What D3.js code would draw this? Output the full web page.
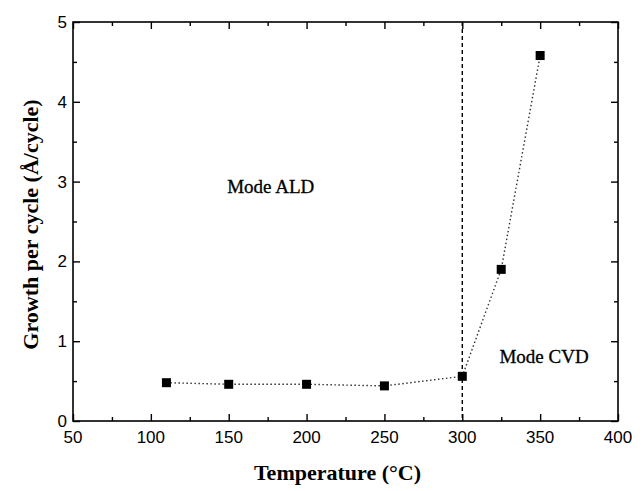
<!DOCTYPE html>
<html><head><meta charset="utf-8">
<script src="https://cdn.jsdelivr.net/npm/d3@7"></script>
<style>body{margin:0;background:#fff}</style>
</head><body>
<svg id="c" width="644" height="491"></svg>
<script>
const temps = [110, 150, 200, 250, 300, 325, 350];
const growth = [0.48, 0.46, 0.46, 0.44, 0.56, 1.90, 4.58];
const xTicks = [50, 100, 150, 200, 250, 300, 350, 400];
const yTicks = [0, 1, 2, 3, 4, 5];
const xMinor = [75, 125, 175, 225, 275, 325, 375];
const yMinor = [0.5, 1.5, 2.5, 3.5, 4.5];
const transitionT = 300;
const labels = [{t: "Mode ALD", x: 177, y: 2.86}, {t: "Mode CVD", x: 352.5, y: 0.73}];

const svg = d3.select("#c");
const L = 73, R = 618, T = 22, B = 421;
const x = d3.scaleLinear().domain([50, 400]).range([L, R]);
const y = d3.scaleLinear().domain([0, 5]).range([B, T]);

const tickStyle = g => { g.select(".domain").remove(); g.selectAll("line").attr("stroke", "#000").attr("stroke-width", 1.4); };

svg.append("g").attr("transform", `translate(0,${B})`)
  .call(d3.axisTop(x).tickValues(xTicks).tickSize(7).tickFormat(""))
  .call(tickStyle);
svg.append("g").attr("transform", `translate(0,${B})`)
  .call(d3.axisTop(x).tickValues(xMinor).tickSize(4).tickFormat(""))
  .call(tickStyle);
svg.append("g").attr("transform", `translate(0,${T})`)
  .call(d3.axisBottom(x).tickValues(xTicks).tickSize(7).tickFormat(""))
  .call(tickStyle);
svg.append("g").attr("transform", `translate(0,${T})`)
  .call(d3.axisBottom(x).tickValues(xMinor).tickSize(4).tickFormat(""))
  .call(tickStyle);
svg.append("g").attr("transform", `translate(${L},0)`)
  .call(d3.axisRight(y).tickValues(yTicks).tickSize(7).tickFormat(""))
  .call(tickStyle);
svg.append("g").attr("transform", `translate(${L},0)`)
  .call(d3.axisRight(y).tickValues(yMinor).tickSize(4).tickFormat(""))
  .call(tickStyle);
svg.append("g").attr("transform", `translate(${R},0)`)
  .call(d3.axisLeft(y).tickValues(yTicks).tickSize(7).tickFormat(""))
  .call(tickStyle);
svg.append("g").attr("transform", `translate(${R},0)`)
  .call(d3.axisLeft(y).tickValues(yMinor).tickSize(4).tickFormat(""))
  .call(tickStyle);

svg.append("rect").attr("x", L).attr("y", T).attr("width", R - L).attr("height", B - T)
  .attr("fill", "none").attr("stroke", "#000").attr("stroke-width", 1.6);

svg.append("g").selectAll("text").data(xTicks).join("text")
  .attr("x", d => x(d)).attr("y", B + 22).attr("text-anchor", "middle")
  .attr("font-family", "Liberation Sans, Arial, sans-serif").attr("font-size", 17)
  .text(d => d);
svg.append("g").selectAll("text").data(yTicks).join("text")
  .attr("x", L - 6).attr("y", d => y(d) + 6).attr("text-anchor", "end")
  .attr("font-family", "Liberation Sans, Arial, sans-serif").attr("font-size", 17)
  .text(d => d);

svg.append("line").attr("x1", x(transitionT)).attr("x2", x(transitionT)).attr("y1", T).attr("y2", B)
  .attr("stroke", "#000").attr("stroke-width", 1.4).attr("stroke-dasharray", "4,3");

const pts = temps.map((t, i) => [t, growth[i]]);
svg.append("path").datum(pts)
  .attr("d", d3.line().x(d => x(d[0])).y(d => y(d[1])))
  .attr("fill", "none").attr("stroke", "#333").attr("stroke-width", 1.4).attr("stroke-dasharray", "1.5,2.5");

const s = 9;
svg.append("g").selectAll("rect").data(pts).join("rect")
  .attr("x", d => x(d[0]) - s / 2).attr("y", d => y(d[1]) - s / 2)
  .attr("width", s).attr("height", s).attr("fill", "#000");

svg.append("g").selectAll("text").data(labels).join("text")
  .attr("x", d => x(d.x)).attr("y", d => y(d.y)).attr("text-anchor", "middle")
  .attr("font-family", "Liberation Serif, Times New Roman, serif").attr("font-size", 19)
  .attr("fill", "#000").attr("stroke", "#000").attr("stroke-width", 0.3)
  .text(d => d.t);

svg.append("text").attr("x", (L + R) / 2 - 8).attr("y", 480).attr("text-anchor", "middle")
  .attr("font-family", "Liberation Serif, Times New Roman, serif").attr("font-size", 22).attr("font-weight", "bold")
  .text("Temperature (°C)");
svg.append("text").attr("transform", `translate(38,${(T + B) / 2 + 3}) rotate(-90)`).attr("text-anchor", "middle")
  .attr("font-family", "Liberation Serif, Times New Roman, serif").attr("font-size", 22).attr("font-weight", "bold")
  .text("Growth per cycle (Å/cycle)");
</script>
</body></html>
